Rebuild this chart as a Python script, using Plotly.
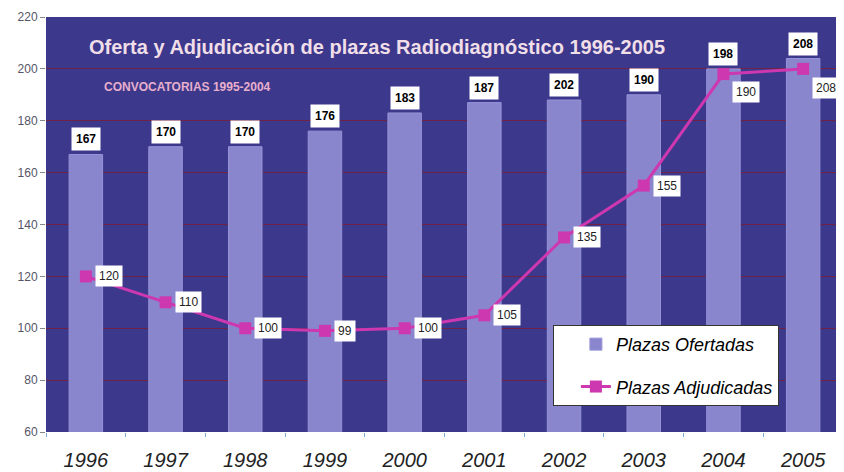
import plotly.graph_objects as go

years = ["1996", "1997", "1998", "1999", "2000", "2001", "2002", "2003", "2004", "2005"]
ofertadas = [167, 170, 170, 176, 183, 187, 188, 190, 200, 204]
ofertadas_labels = ["167", "170", "170", "176", "183", "187", "202", "190", "198", "208"]
adjudicadas = [120, 110, 100, 99, 100, 105, 135, 155, 198, 200]
adjudicadas_labels = ["120", "110", "100", "99", "100", "105", "135", "155", "190", "208"]
y_ticks = [60, 80, 100, 120, 140, 160, 180, 200, 220]

BG = "rgb(60,56,140)"
BAR = "rgb(138,134,206)"
LINE = "rgb(205,55,175)"

fig = go.Figure()
fig.add_trace(go.Bar(
    x=years, y=ofertadas, name="Plazas Ofertadas",
    marker=dict(color=BAR, line=dict(color="rgb(150,148,215)", width=1)),
    legendgroup="a",
))
fig.add_trace(go.Scatter(
    x=years, y=adjudicadas, name="Plazas Adjudicadas", mode="lines+markers",
    line=dict(color=LINE, width=3),
    marker=dict(symbol="square", size=12, color=LINE),
    legendgroup="b",
))

annotations = []
for i, (v, t) in enumerate(zip(ofertadas, ofertadas_labels)):
    annotations.append(dict(
        x=i, y=v, text=f"<b>{t}</b>", showarrow=False, xref="x", yref="y",
        yanchor="bottom", yshift=3,
        font=dict(family="Liberation Sans, Arial", size=12, color="black"),
        bgcolor="white", borderpad=4,
    ))
shifts = [0, 0, 0, 0, 0, 0, 0, 0, -18, -19]
for i, (v, t) in enumerate(zip(adjudicadas, adjudicadas_labels)):
    annotations.append(dict(
        x=i, y=v, text=t, showarrow=False, xref="x", yref="y",
        xanchor="left", xshift=9, yshift=shifts[i],
        font=dict(family="Liberation Sans, Arial", size=12, color="#222"),
        bgcolor="white", borderpad=3,
    ))
annotations.append(dict(
    x=0.415, y=0.928, xref="paper", yref="paper", showarrow=False,
    xanchor="center", yanchor="middle",
    text="<b>Oferta y Adjudicación de plazas Radiodiagnóstico 1996-2005</b>",
    font=dict(family="Liberation Sans, Arial", size=20, color="rgb(240,222,232)"),
))
annotations.append(dict(
    x=0.178, y=0.831, xref="paper", yref="paper", showarrow=False,
    xanchor="center", yanchor="middle",
    text="<b>CONVOCATORIAS 1995-2004</b>",
    font=dict(family="Liberation Sans, Arial", size=12, color="rgb(232,175,205)"),
))

fig.update_layout(
    width=844, height=472,
    margin=dict(l=38, r=9, t=9, b=48, autoexpand=False),
    paper_bgcolor="white", plot_bgcolor=BG,
    bargap=0.58,
    font=dict(family="Liberation Sans, Arial"),
    annotations=annotations,
    legend=dict(
        x=0.636, y=0.258, xanchor="left", yanchor="top",
        bgcolor="white", bordercolor="#333", borderwidth=1,
        font=dict(family="Liberation Sans, Arial", size=18, color="black", style="italic"),
        tracegroupgap=16, traceorder="grouped", indentation=22,
    ),
    xaxis=dict(
        type="category", range=[-0.5, len(years) - 0.5], autorange=False,
        tickson="boundaries", ticks="outside", ticklen=4, automargin=False,
        tickcolor="rgb(120,170,220)", showgrid=False, tickangle=0,
        ticklabelstandoff=14,
        tickfont=dict(family="Liberation Sans, Arial", size=20, color="#222", style="italic"),
    ),
    yaxis=dict(
        range=[60, 220], tickvals=y_ticks, ticks="outside", ticklen=5, automargin=False,
        tickcolor="#888", showgrid=True, gridcolor="rgb(110,35,70)", gridwidth=1,
        zeroline=False,
        tickfont=dict(family="Liberation Sans, Arial", size=12, color="#556"),
    ),
)

fig.write_html("out.html")
